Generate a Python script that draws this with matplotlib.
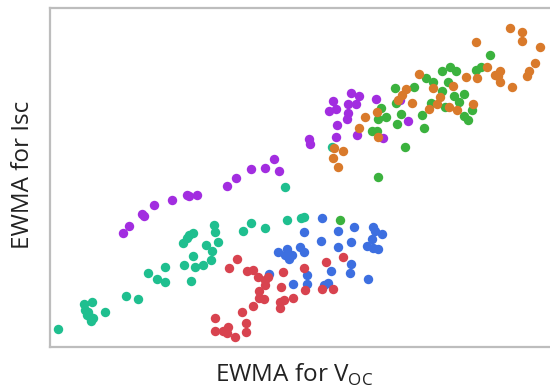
import matplotlib
matplotlib.use('Agg')
import matplotlib.pyplot as plt

plt.rcParams['font.family'] = ['Open Sans', 'DejaVu Sans']
plt.rcParams['mathtext.fontset'] = 'custom'
plt.rcParams['mathtext.rm'] = 'Open Sans'

# values (arbitrary units)
purple_x = [73, 79, 92, 94, 104, 122, 137, 139, 147, 177, 186, 201, 215, 224, 229, 259, 260,
            283, 279, 286, 301, 309, 298, 306, 298, 297, 287, 286, 307, 326, 333, 358, 350]
purple_y = [114, 121, 133, 131, 142, 147, 152, 151, 152, 161, 169, 178, 179, 188, 176, 208, 203,
            246, 236, 238, 254, 251, 243, 243, 234, 228, 222, 210, 212, 248, 209, 226, 247]

teal_x = [8, 34, 42, 35, 37, 40, 41, 43, 38, 55, 76, 88, 98, 107, 115, 115, 133, 137, 139, 143,
          134, 143, 145, 141, 153, 156, 161, 162, 165, 164, 168, 193, 201, 215, 237, 251, 254, 235, 282]
teal_y = [18, 43, 45, 37, 32, 30, 26, 29, 35, 35, 51, 48, 74, 68, 65, 80, 104, 109, 112, 114,
          82, 91, 80, 66, 82, 102, 87, 96, 115, 122, 105, 116, 124, 119, 127, 129, 130, 160, 200]

red_x = [179, 187, 197, 203, 208, 215, 218, 215, 209, 209, 214, 203, 192, 165, 165, 173, 178,
         177, 185, 196, 196, 233, 231, 243, 234, 230, 230, 254, 255, 276, 293, 272, 283]
red_y = [79, 88, 76, 77, 70, 67, 70, 62, 56, 49, 48, 41, 35, 29, 16, 16, 20,
         14, 10, 24, 15, 75, 60, 49, 47, 45, 39, 79, 57, 85, 90, 58, 58]

blue_x = [272, 254, 288, 304, 323, 325, 332, 322, 317, 323, 328, 301, 288, 271, 250, 254,
          237, 228, 235, 242, 239, 301, 300, 281, 318, 219, 243, 257, 257, 274, 278]
blue_y = [129, 115, 116, 120, 120, 116, 113, 108, 101, 99, 98, 105, 100, 106, 100, 95,
          98, 95, 92, 92, 88, 83, 74, 76, 68, 73, 63, 72, 63, 62, 64]

green_x = [290, 331, 336, 328, 322, 327, 328, 355, 345, 346, 351, 347, 364, 376, 383, 372, 374,
           381, 392, 392, 400, 406, 398, 404, 414, 409, 395, 414, 418, 422, 426, 431, 440]
green_y = [127, 239, 230, 228, 216, 216, 170, 200, 259, 244, 233, 223, 260, 269, 265, 232, 219,
           244, 256, 276, 280, 276, 265, 251, 253, 245, 240, 231, 227, 237, 277, 280, 292]

orange_x = [284, 293, 283, 288, 315, 309, 327, 328, 348, 352, 356, 362, 369, 383, 390, 387, 379,
            399, 403, 407, 416, 426, 427, 437, 445, 448, 450, 450, 462, 460, 472, 472, 490, 485,
            479, 477, 423]
orange_y = [199, 196, 189, 180, 230, 219, 235, 210, 247, 252, 258, 244, 273, 259, 250, 243, 238,
            240, 261, 237, 270, 305, 269, 280, 272, 271, 276, 265, 260, 319, 315, 306, 300, 284,
            276, 271, 243]

series = [
    (teal_x, teal_y, '#1fbf8f'),
    (purple_x, purple_y, '#a22de0'),
    (blue_x, blue_y, '#3d6fe0'),
    (red_x, red_y, '#d8434f'),
    (green_x, green_y, '#3bb23e'),
    (orange_x, orange_y, '#d97a2b'),
]

fig = plt.figure(figsize=(5.5, 3.89), dpi=100)
ax = fig.add_axes([50 / 550, 42 / 389, 500 / 550, 339 / 389])
for xs, ys, c in series:
    ax.scatter(xs, ys, s=46, color=c, linewidths=0, zorder=3)

ax.set_xlim(0, 500)
ax.set_ylim(0, 339)
ax.set_xticks([])
ax.set_yticks([])
ax.spines['right'].set_visible(False)
for side in ['left', 'top', 'bottom']:
    ax.spines[side].set_color('#bdbdbd')
    ax.spines[side].set_linewidth(1.6)

ax.set_xlabel(r'EWMA for V$_{\mathrm{OC}}$', fontsize=17.5, color='#222222')
ax.xaxis.set_label_coords(0.488, -0.045, transform=ax.transAxes)
ax.xaxis.label.set_va('top')
ax.set_ylabel('EWMA for Isc', fontsize=17.5, color='#222222')
ax.yaxis.set_label_coords(-0.03, 0.507, transform=ax.transAxes)

fig.savefig('out.png', dpi=100)
